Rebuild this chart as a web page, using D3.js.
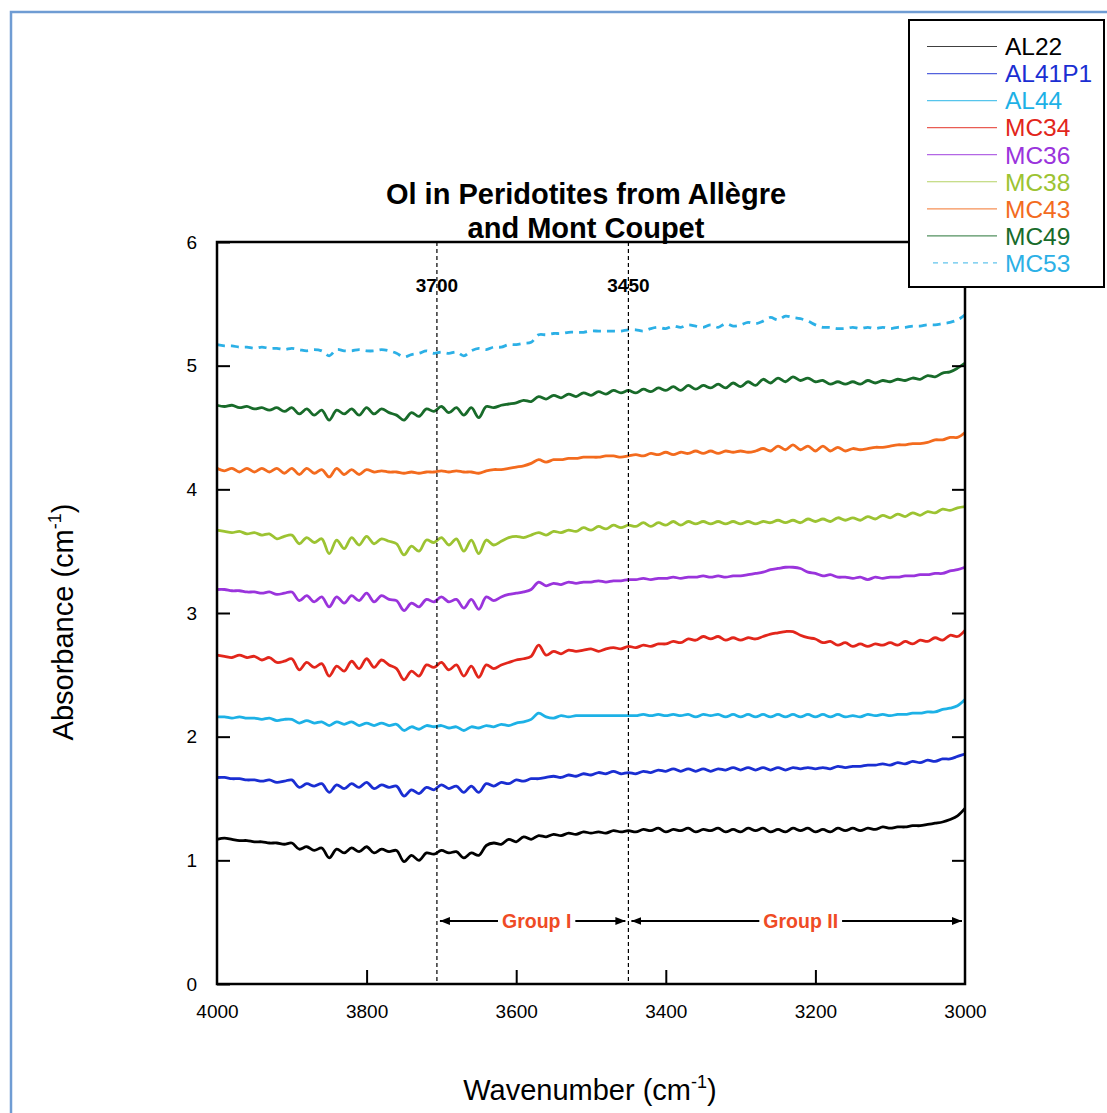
<!DOCTYPE html>
<html>
<head>
<meta charset="utf-8">
<script src="https://cdn.jsdelivr.net/npm/d3@7/dist/d3.min.js"></script>
<style>
  body { margin: 0; background: #fff; }
  svg { display: block; font-family: "Liberation Sans", Arial, sans-serif; }
</style>
</head>
<body>
<div id="chart"></div>
<script>
// wavenumber grid (cm-1), every 10 cm-1 from 4000 down to 3000
const wavenumbers = [
  4000,3990,3980,3970,3960,3950,3940,3930,3920,3910,
  3900,3890,3880,3870,3860,3850,3840,3830,3820,3810,
  3800,3790,3780,3770,3760,3750,3740,3730,3720,3710,
  3700,3690,3680,3670,3660,3650,3640,3630,3620,3610,
  3600,3590,3580,3570,3560,3550,3540,3530,3520,3510,
  3500,3490,3480,3470,3460,3450,3440,3430,3420,3410,
  3400,3390,3380,3370,3360,3350,3340,3330,3320,3310,
  3300,3290,3280,3270,3260,3250,3240,3230,3220,3210,
  3200,3190,3180,3170,3160,3150,3140,3130,3120,3110,
  3100,3090,3080,3070,3060,3050,3040,3030,3020,3010,
  3000
];

// absorbance (offset) per sample
const al22 = [
  1.17,1.18,1.17,1.16,1.16,1.15,1.15,1.14,1.14,1.13,
  1.14,1.09,1.11,1.08,1.10,1.02,1.09,1.06,1.10,1.07,
  1.11,1.06,1.09,1.07,1.08,0.99,1.04,1.00,1.06,1.05,
  1.08,1.06,1.07,1.02,1.06,1.04,1.12,1.14,1.13,1.17,
  1.15,1.19,1.17,1.20,1.19,1.21,1.20,1.22,1.21,1.23,
  1.22,1.23,1.22,1.24,1.23,1.24,1.23,1.25,1.24,1.26,
  1.23,1.25,1.24,1.26,1.23,1.25,1.24,1.26,1.23,1.25,
  1.23,1.26,1.24,1.26,1.23,1.25,1.23,1.26,1.24,1.26,
  1.23,1.25,1.23,1.26,1.24,1.26,1.24,1.26,1.25,1.27,
  1.26,1.27,1.27,1.28,1.28,1.29,1.30,1.31,1.33,1.36,
  1.42
];
const al41p1 = [
  1.67,1.67,1.66,1.66,1.65,1.65,1.64,1.65,1.63,1.64,
  1.65,1.59,1.62,1.60,1.62,1.55,1.61,1.58,1.62,1.59,
  1.63,1.58,1.61,1.59,1.60,1.52,1.57,1.54,1.59,1.57,
  1.61,1.58,1.60,1.55,1.60,1.55,1.62,1.60,1.63,1.62,
  1.65,1.64,1.66,1.66,1.67,1.68,1.67,1.69,1.68,1.70,
  1.69,1.71,1.70,1.72,1.70,1.71,1.70,1.72,1.71,1.73,
  1.72,1.74,1.72,1.74,1.72,1.74,1.72,1.74,1.73,1.75,
  1.73,1.75,1.73,1.75,1.73,1.75,1.73,1.75,1.74,1.75,
  1.74,1.75,1.74,1.76,1.75,1.76,1.76,1.77,1.77,1.78,
  1.77,1.79,1.78,1.80,1.79,1.81,1.80,1.82,1.82,1.84,
  1.86
];
const al44 = [
  2.16,2.16,2.15,2.16,2.15,2.15,2.14,2.15,2.13,2.14,
  2.14,2.11,2.13,2.11,2.12,2.09,2.12,2.10,2.12,2.09,
  2.11,2.09,2.11,2.09,2.10,2.05,2.08,2.06,2.09,2.08,
  2.09,2.07,2.08,2.05,2.08,2.07,2.09,2.08,2.10,2.09,
  2.11,2.12,2.14,2.19,2.16,2.15,2.17,2.16,2.17,2.17,
  2.17,2.17,2.17,2.17,2.17,2.17,2.17,2.18,2.17,2.18,
  2.17,2.18,2.17,2.18,2.16,2.18,2.17,2.18,2.16,2.18,
  2.16,2.18,2.16,2.18,2.16,2.18,2.16,2.18,2.16,2.18,
  2.16,2.18,2.16,2.18,2.16,2.17,2.16,2.18,2.17,2.18,
  2.17,2.18,2.18,2.19,2.19,2.20,2.20,2.22,2.23,2.25,
  2.30
];
const mc34 = [
  2.66,2.65,2.64,2.66,2.64,2.65,2.62,2.64,2.60,2.61,
  2.63,2.54,2.60,2.56,2.59,2.49,2.57,2.53,2.61,2.55,
  2.63,2.56,2.62,2.58,2.55,2.46,2.53,2.49,2.58,2.56,
  2.60,2.54,2.58,2.49,2.57,2.48,2.58,2.55,2.58,2.60,
  2.62,2.63,2.65,2.74,2.66,2.69,2.67,2.70,2.69,2.70,
  2.71,2.69,2.71,2.72,2.71,2.73,2.72,2.74,2.73,2.75,
  2.75,2.77,2.76,2.79,2.78,2.81,2.79,2.81,2.78,2.80,
  2.78,2.80,2.79,2.81,2.83,2.84,2.85,2.85,2.82,2.80,
  2.79,2.76,2.77,2.74,2.76,2.73,2.75,2.73,2.75,2.74,
  2.76,2.74,2.77,2.75,2.78,2.77,2.80,2.78,2.82,2.81,
  2.86
];
const mc36 = [
  3.19,3.19,3.18,3.18,3.17,3.17,3.16,3.17,3.15,3.16,
  3.17,3.10,3.14,3.09,3.13,3.05,3.13,3.08,3.14,3.10,
  3.16,3.09,3.14,3.11,3.10,3.02,3.08,3.05,3.11,3.09,
  3.13,3.09,3.11,3.04,3.11,3.03,3.13,3.10,3.13,3.15,
  3.16,3.17,3.19,3.25,3.22,3.24,3.23,3.25,3.24,3.25,
  3.25,3.26,3.25,3.26,3.26,3.27,3.27,3.28,3.27,3.28,
  3.28,3.29,3.28,3.29,3.29,3.30,3.29,3.30,3.29,3.30,
  3.30,3.31,3.32,3.33,3.35,3.36,3.37,3.37,3.36,3.33,
  3.32,3.30,3.31,3.29,3.29,3.28,3.29,3.27,3.29,3.28,
  3.29,3.29,3.30,3.30,3.31,3.31,3.32,3.32,3.34,3.35,
  3.37
];
const mc38 = [
  3.67,3.66,3.65,3.66,3.64,3.65,3.63,3.64,3.60,3.62,
  3.63,3.56,3.61,3.57,3.60,3.48,3.59,3.52,3.61,3.55,
  3.62,3.56,3.60,3.58,3.56,3.47,3.54,3.50,3.59,3.57,
  3.61,3.55,3.60,3.50,3.59,3.48,3.59,3.55,3.58,3.61,
  3.62,3.61,3.63,3.65,3.63,3.66,3.65,3.67,3.66,3.69,
  3.67,3.70,3.68,3.71,3.69,3.71,3.70,3.73,3.70,3.73,
  3.71,3.74,3.71,3.74,3.72,3.74,3.72,3.74,3.72,3.74,
  3.72,3.74,3.72,3.74,3.73,3.75,3.73,3.75,3.73,3.76,
  3.74,3.76,3.74,3.77,3.75,3.77,3.75,3.78,3.76,3.79,
  3.77,3.80,3.78,3.81,3.79,3.82,3.81,3.84,3.83,3.85,
  3.86
];
const mc43 = [
  4.17,4.15,4.17,4.14,4.17,4.14,4.17,4.14,4.17,4.13,
  4.17,4.12,4.17,4.13,4.16,4.10,4.17,4.12,4.16,4.12,
  4.16,4.14,4.15,4.14,4.14,4.13,4.14,4.13,4.14,4.14,
  4.15,4.14,4.15,4.14,4.14,4.13,4.15,4.16,4.16,4.17,
  4.18,4.19,4.21,4.24,4.22,4.24,4.24,4.25,4.25,4.26,
  4.26,4.26,4.27,4.27,4.26,4.27,4.28,4.27,4.29,4.28,
  4.30,4.28,4.30,4.29,4.31,4.29,4.31,4.29,4.31,4.30,
  4.31,4.30,4.31,4.33,4.31,4.35,4.32,4.36,4.32,4.35,
  4.31,4.35,4.31,4.34,4.31,4.33,4.32,4.33,4.34,4.34,
  4.35,4.36,4.36,4.37,4.37,4.38,4.40,4.40,4.42,4.42,
  4.46
];
const mc49 = [
  4.68,4.67,4.68,4.66,4.67,4.65,4.66,4.64,4.66,4.63,
  4.66,4.61,4.65,4.60,4.64,4.56,4.64,4.61,4.65,4.60,
  4.66,4.61,4.65,4.62,4.60,4.56,4.62,4.59,4.65,4.63,
  4.67,4.62,4.66,4.60,4.66,4.58,4.67,4.66,4.68,4.69,
  4.70,4.72,4.71,4.75,4.73,4.76,4.74,4.77,4.75,4.78,
  4.76,4.79,4.77,4.80,4.78,4.80,4.78,4.81,4.79,4.82,
  4.80,4.83,4.80,4.84,4.81,4.84,4.82,4.85,4.82,4.86,
  4.83,4.87,4.84,4.89,4.86,4.90,4.87,4.91,4.88,4.90,
  4.87,4.88,4.85,4.87,4.85,4.87,4.85,4.88,4.86,4.88,
  4.87,4.89,4.88,4.90,4.89,4.92,4.91,4.94,4.95,4.98,
  5.02
];
const mc53 = [
  5.17,5.16,5.16,5.15,5.15,5.14,5.15,5.14,5.14,5.13,
  5.14,5.13,5.12,5.13,5.12,5.08,5.13,5.12,5.12,5.13,
  5.12,5.12,5.13,5.12,5.10,5.07,5.09,5.10,5.12,5.10,
  5.11,5.10,5.11,5.08,5.12,5.14,5.13,5.15,5.15,5.17,
  5.17,5.18,5.19,5.25,5.25,5.26,5.26,5.27,5.27,5.27,
  5.28,5.28,5.28,5.28,5.28,5.29,5.29,5.28,5.30,5.31,
  5.30,5.32,5.31,5.33,5.32,5.31,5.33,5.31,5.34,5.32,
  5.33,5.35,5.34,5.36,5.39,5.37,5.40,5.39,5.38,5.36,
  5.33,5.31,5.31,5.30,5.30,5.31,5.30,5.31,5.30,5.31,
  5.30,5.31,5.31,5.32,5.32,5.33,5.33,5.34,5.35,5.37,
  5.41
];

const sampleNames  = ["AL22", "AL41P1", "AL44", "MC34", "MC36", "MC38", "MC43", "MC49", "MC53"];
const sampleValues = [al22, al41p1, al44, mc34, mc36, mc38, mc43, mc49, mc53];
const sampleColors = ["#000000", "#1a2ed2", "#1db1e6", "#e2261b", "#9a34dc", "#9cc332", "#f36b1e", "#186b2a", "#2cb0e6"];
const sampleDashed = [false, false, false, false, false, false, false, false, true];

const xTicks = [4000, 3800, 3600, 3400, 3200, 3000];
const yTicks = [0, 1, 2, 3, 4, 5, 6];

// vertical markers and the band groups between them
const markerWn = [3706, 3450];
const markerLabels = ["3700", "3450"];
const groupNames = ["Group I", "Group II"];
const groupFrom = [3706, 3450];
const groupTo = [3450, 3000];

const width = 1107, height = 1113;

const svg = d3.select("#chart").append("svg")
    .attr("width", width)
    .attr("height", height);

// outer blue frame
svg.append("rect")
    .attr("x", 11).attr("y", 12)
    .attr("width", 1300).attr("height", 1300)
    .attr("fill", "none")
    .attr("stroke", "#6f9cd3")
    .attr("stroke-width", 2.5);

const x = d3.scaleLinear().domain([4000, 3000]).range([217, 965]);
const y = d3.scaleLinear().domain([0, 6]).range([984, 242]);

// arrow head
svg.append("defs").append("marker")
    .attr("id", "head")
    .attr("viewBox", "0 0 10 10")
    .attr("refX", 10).attr("refY", 5)
    .attr("markerWidth", 10).attr("markerHeight", 10)
    .attr("markerUnits", "userSpaceOnUse")
    .attr("orient", "auto")
  .append("path")
    .attr("d", "M0,1 L10,5 L0,9 Z")
    .attr("fill", "#000");

// spectra
const line = d3.line()
    .x((d, i) => x(wavenumbers[i]))
    .y(d => y(d))
    .curve(d3.curveCatmullRom.alpha(0.5));

svg.append("g").selectAll("path")
    .data(sampleValues)
    .enter()
    .append("path")
    .attr("d", d => line(d))
    .attr("fill", "none")
    .attr("stroke", (d, i) => sampleColors[i])
    .attr("stroke-width", 2.8)
    .attr("stroke-linejoin", "round")
    .attr("stroke-dasharray", (d, i) => sampleDashed[i] ? "8,6" : null);

// dashed markers
svg.append("g").selectAll("line")
    .data(markerWn)
    .enter()
    .append("line")
    .attr("x1", d => x(d)).attr("x2", d => x(d))
    .attr("y1", y(6)).attr("y2", y(0))
    .attr("stroke", "#000")
    .attr("stroke-width", 1.2)
    .attr("stroke-dasharray", "4,3");

svg.append("g").selectAll("text")
    .data(markerWn)
    .enter()
    .append("text")
    .attr("x", d => x(d))
    .attr("y", 292)
    .attr("text-anchor", "middle")
    .style("font-size", "19px")
    .style("font-weight", "bold")
    .text((d, i) => markerLabels[i]);

// group arrows
const gy = 921;
groupNames.forEach(function(name, i) {
    const x0 = x(groupFrom[i]), x1 = x(groupTo[i]);
    const cx = (x0 + x1) / 2 + 4;
    const t = svg.append("text")
        .attr("x", cx).attr("y", gy + 7)
        .attr("text-anchor", "middle")
        .style("font-size", "19.5px")
        .style("font-weight", "bold")
        .attr("fill", "#ef4b25")
        .text(name);
    const w = t.node().getComputedTextLength();
    svg.append("line")
        .attr("x1", cx - w / 2 - 4).attr("y1", gy)
        .attr("x2", x0 + 3).attr("y2", gy)
        .attr("stroke", "#000").attr("stroke-width", 2)
        .attr("marker-end", "url(#head)");
    svg.append("line")
        .attr("x1", cx + w / 2 + 4).attr("y1", gy)
        .attr("x2", x1 - 3).attr("y2", gy)
        .attr("stroke", "#000").attr("stroke-width", 2)
        .attr("marker-end", "url(#head)");
});

// axes
const yAxis = svg.append("g")
    .attr("transform", "translate(217,0)")
    .call(d3.axisLeft(y).tickValues(yTicks).tickSizeInner(-13).tickSizeOuter(0)
        .tickPadding(20).tickFormat(d3.format("d")));
yAxis.selectAll("text").style("font-size", "19px").attr("fill", "#000");

const yAxisR = svg.append("g")
    .attr("transform", "translate(965,0)")
    .call(d3.axisRight(y).tickValues([1, 2, 3, 4, 5]).tickSizeInner(-13).tickSizeOuter(0).tickFormat(""));

const xAxis = svg.append("g")
    .attr("transform", "translate(0,984)")
    .call(d3.axisBottom(x).tickValues(xTicks).tickSizeInner(-14).tickSizeOuter(0)
        .tickPadding(21).tickFormat(d3.format("d")));
xAxis.selectAll("text")
    .style("font-size", "19px")
    .attr("fill", "#000");

[yAxis, yAxisR, xAxis].forEach(function(g) {
    g.select(".domain").remove();
    g.selectAll(".tick line").attr("stroke", "#000").attr("stroke-width", 2);
});
xAxis.selectAll(".tick line").filter(d => d === 4000 || d === 3000).remove();

// plot frame
svg.append("rect")
    .attr("x", 217).attr("y", 242)
    .attr("width", 965 - 217).attr("height", 984 - 242)
    .attr("fill", "none")
    .attr("stroke", "#000")
    .attr("stroke-width", 2.5);

// title
svg.append("text")
    .attr("x", 586).attr("y", 204)
    .attr("text-anchor", "middle")
    .style("font-size", "29px").style("font-weight", "bold")
    .text("Ol in Peridotites from Allègre");
svg.append("text")
    .attr("x", 586).attr("y", 238)
    .attr("text-anchor", "middle")
    .style("font-size", "29px").style("font-weight", "bold")
    .text("and Mont Coupet");

// axis titles
const xt = svg.append("text")
    .attr("x", 590).attr("y", 1100)
    .attr("text-anchor", "middle")
    .style("font-size", "29px");
xt.append("tspan").text("Wavenumber (cm");
xt.append("tspan").attr("dy", -12).style("font-size", "18px").text("-1");
xt.append("tspan").attr("dy", 12).text(")");

const yt = svg.append("text")
    .attr("transform", "translate(73,622) rotate(-90)")
    .attr("text-anchor", "middle")
    .style("font-size", "29px");
yt.append("tspan").text("Absorbance (cm");
yt.append("tspan").attr("dy", -12).style("font-size", "18px").text("-1");
yt.append("tspan").attr("dy", 12).text(")");

// legend
const legend = svg.append("g");
legend.append("rect")
    .attr("x", 909).attr("y", 20)
    .attr("width", 195).attr("height", 267)
    .attr("fill", "#fff")
    .attr("stroke", "#000")
    .attr("stroke-width", 2);

const rows = legend.selectAll("g.row")
    .data(sampleNames)
    .enter()
    .append("g")
    .attr("class", "row")
    .attr("transform", (d, i) => "translate(0," + (46.5 + i * 27.05) + ")");

rows.append("line")
    .attr("x1", (d, i) => sampleDashed[i] ? 933 : 927)
    .attr("x2", 997)
    .attr("stroke", (d, i) => sampleColors[i])
    .attr("stroke-opacity", 0.75)
    .attr("stroke-width", 1.2)
    .attr("stroke-dasharray", (d, i) => sampleDashed[i] ? "5,5" : null);

rows.append("text")
    .attr("x", 1005)
    .attr("dy", "0.36em")
    .style("font-size", "24.5px")
    .attr("fill", (d, i) => sampleColors[i])
    .text(d => d);
</script>
</body>
</html>
